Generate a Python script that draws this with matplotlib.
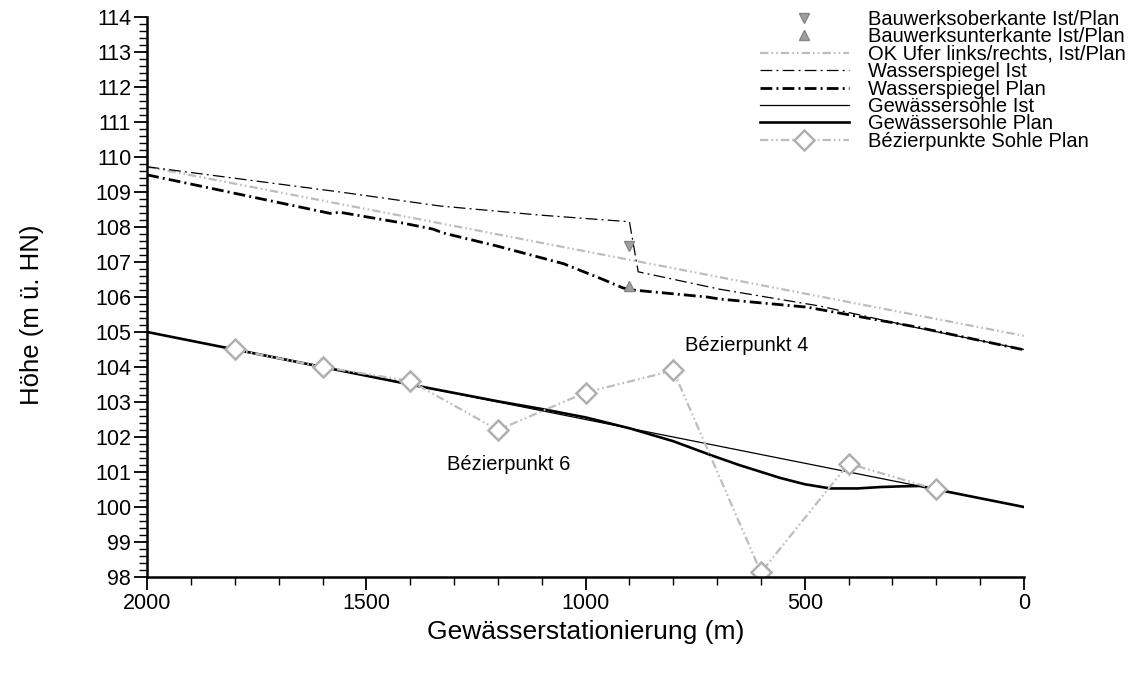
import matplotlib
matplotlib.use("Agg")
import matplotlib.pyplot as plt
from matplotlib.ticker import MultipleLocator

plt.rcParams['font.family'] = ['Liberation Sans', 'DejaVu Sans']
plt.rcParams['lines.scale_dashes'] = False

# Stationierung (m) und Höhen (m ü. HN)
ufer_x = [2000, 0]
ufer_y = [109.72, 104.89]

ws_ist_x = [2000, 1560, 1332, 1104, 900, 880, 693, 465, 244, 0]
ws_ist_y = [109.72, 109.0, 108.6, 108.34, 108.15, 106.72, 106.22, 105.74, 105.12, 104.5]

ws_plan_x = [2000, 1583, 1560, 1416, 1348, 1325, 1200, 1050, 960, 915, 892, 723, 693, 495, 244, 0]
ws_plan_y = [109.49, 108.39, 108.42, 108.11, 107.94, 107.83, 107.45, 106.95, 106.5, 106.26, 106.2, 106.0, 105.94, 105.71, 105.14, 104.49]

sohle_ist_x = [2000, 0]
sohle_ist_y = [105.0, 100.0]

sohle_plan_x = [2000, 1800, 1600, 1400, 1200, 1100, 1000, 900, 800, 716, 650, 556, 500, 442, 380, 328, 280, 237, 200, 100, 0]
sohle_plan_y = [105.0, 104.5, 104.0, 103.5, 103.02, 102.8, 102.56, 102.25, 101.88, 101.49, 101.2, 100.83, 100.65, 100.53, 100.53, 100.57, 100.59, 100.6, 100.5, 100.25, 100.0]

bez_x = [1800, 1600, 1400, 1200, 1000, 800, 600, 400, 200]
bez_y = [104.5, 104.0, 103.6, 102.2, 103.27, 103.9, 98.13, 101.24, 100.5]

bw_x = [900]
bw_ok = [107.47]
bw_uk = [106.31]

fig = plt.figure(figsize=(11.32, 6.75), dpi=100)
ax = fig.add_axes([0.13, 0.1452, 0.7746, 0.8296])

gray = '#bdbdbd'
dd = (0, (6, 2.2, 1.2, 2.2, 1.2, 2.2))
dash_dot = (0, (8.5, 3, 1.4, 3))

ax.plot(bw_x, bw_ok, linestyle='none', marker='v', ms=7, mfc='#a0a0a0', mec='#858585',
        label='Bauwerksoberkante Ist/Plan', zorder=5)
ax.plot(bw_x, bw_uk, linestyle='none', marker='^', ms=7, mfc='#a0a0a0', mec='#858585',
        label='Bauwerksunterkante Ist/Plan', zorder=5)
ax.plot(ufer_x, ufer_y, color=gray, lw=1.6, linestyle=dd, label='OK Ufer links/rechts, Ist/Plan')
ax.plot(ws_ist_x, ws_ist_y, color='black', lw=0.9, linestyle=dash_dot, label='Wasserspiegel Ist')
ax.plot(ws_plan_x, ws_plan_y, color='black', lw=2.0, linestyle=dash_dot, label='Wasserspiegel Plan')
ax.plot(sohle_ist_x, sohle_ist_y, color='black', lw=0.9, label='Gewässersohle Ist')
ax.plot(sohle_plan_x, sohle_plan_y, color='black', lw=1.9, label='Gewässersohle Plan')
ax.plot(bez_x, bez_y, color=gray, lw=1.6, linestyle=dd, marker='D', ms=10.5, mfc='white',
        mec='#b0b0b0', mew=1.8, label='Bézierpunkte Sohle Plan')

ax.text(773, 104.6, 'Bézierpunkt 4', fontsize=14.5, va='center', ha='left')
ax.text(1316, 101.2, 'Bézierpunkt 6', fontsize=14.5, va='center', ha='left')

ax.set_xlim(2000, 0)
ax.set_ylim(98, 114)
ax.xaxis.set_major_locator(MultipleLocator(500))
ax.xaxis.set_minor_locator(MultipleLocator(100))
ax.yaxis.set_major_locator(MultipleLocator(1))
ax.yaxis.set_minor_locator(MultipleLocator(0.2))

for s in ['top', 'right']:
    ax.spines[s].set_visible(False)
for s in ['left', 'bottom']:
    ax.spines[s].set_linewidth(1.8)

ax.tick_params(which='major', length=9.5, width=1.3, labelsize=15.5, pad=2)
ax.tick_params(which='minor', length=5.5, width=1.0)

ax.set_xlabel('Gewässerstationierung (m)', fontsize=19, labelpad=4)
ax.set_ylabel('Höhe (m ü. HN)', fontsize=18.5)
ax.yaxis.set_label_coords(-0.118, 0.468)

ax.legend(loc='upper left', bbox_to_anchor=(760 / 1132, 1 - 10 / 675),
          bbox_transform=fig.transFigure, frameon=False, fontsize=14.5,
          handlelength=4.4, handletextpad=0.95, labelspacing=-0.08,
          borderpad=0, borderaxespad=0, numpoints=1)

fig.savefig('out.png', dpi=100)
